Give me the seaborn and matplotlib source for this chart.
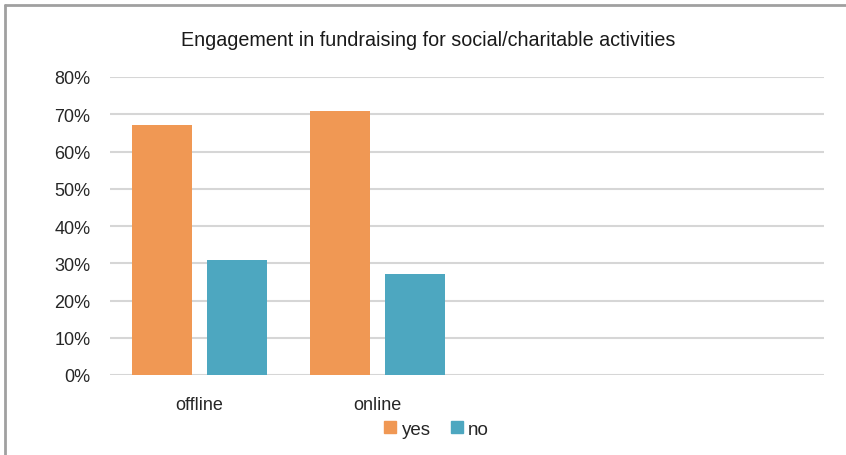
import matplotlib
matplotlib.use("Agg")
import matplotlib.pyplot as plt
import seaborn as sns
import pandas as pd
from matplotlib.lines import Line2D
from matplotlib.ticker import FuncFormatter

categories = ["offline", "online"]
series = ["yes", "no"]
yes_values = [0.67, 0.71]
no_values = [0.31, 0.27]
yticks = [0.0, 0.1, 0.2, 0.3, 0.4, 0.5, 0.6, 0.7, 0.8]

df = pd.DataFrame({
    "mode": categories * 2,
    "answer": ["yes"] * len(categories) + ["no"] * len(categories),
    "value": yes_values + no_values,
})

sns.set_theme(style="white")
plt.rcParams["font.family"] = ["Liberation Sans Narrow", "Liberation Sans", "DejaVu Sans"]

fig = plt.figure(figsize=(8.46, 4.56), dpi=100)
ax = fig.add_axes([110 / 846, 1 - 376 / 456, (824 - 110) / 846, (376 - 78) / 456])

palette = {"yes": "#F09854", "no": "#4DA7C0"}
sns.barplot(data=df, x="mode", y="value", hue="answer", hue_order=series,
            palette=palette, width=0.835, gap=0.195, ax=ax, legend=False,
            saturation=1, errorbar=None, linewidth=0)

ax.set_xlim(-0.5, 3.5)
ax.set_ylim(0, 0.8)
ax.set_yticks(yticks)
ax.yaxis.set_major_formatter(FuncFormatter(lambda v, p: f"{v*100:.0f}%"))
ax.set_xlabel("")
ax.set_ylabel("")
for s in ax.spines.values():
    s.set_visible(False)
ax.grid(axis="y", color="#D6D6D6", linewidth=1.5)
ax.set_axisbelow(True)
ax.tick_params(axis="both", length=0, labelsize=13, colors="#262626")
ax.tick_params(axis="y", pad=14)
ax.tick_params(axis="x", pad=15)

fig.text(428 / 846, 1 - 41 / 456, "Engagement in fundraising for social/charitable activities",
         ha="center", va="center", fontsize=14.2, color="#1a1a1a")

handles = [Line2D([0], [0], marker="s", linestyle="none", markersize=9,
                  markerfacecolor=palette[s], markeredgecolor=palette[s]) for s in series]
fig.legend(handles, series, loc="center", bbox_to_anchor=(436 / 846, 1 - 430 / 456),
           ncol=2, frameon=False, fontsize=13.5, handletextpad=0.2, columnspacing=1.0,
           handlelength=0.8)

# border (top and left visible)
fig.add_artist(Line2D([5 / 846, 1], [1 - 6 / 456, 1 - 6 / 456], color="#A0A0A0", linewidth=2))
fig.add_artist(Line2D([5 / 846, 5 / 846], [0, 1 - 6 / 456], color="#A0A0A0", linewidth=2))

fig.savefig("out.png", dpi=100)
